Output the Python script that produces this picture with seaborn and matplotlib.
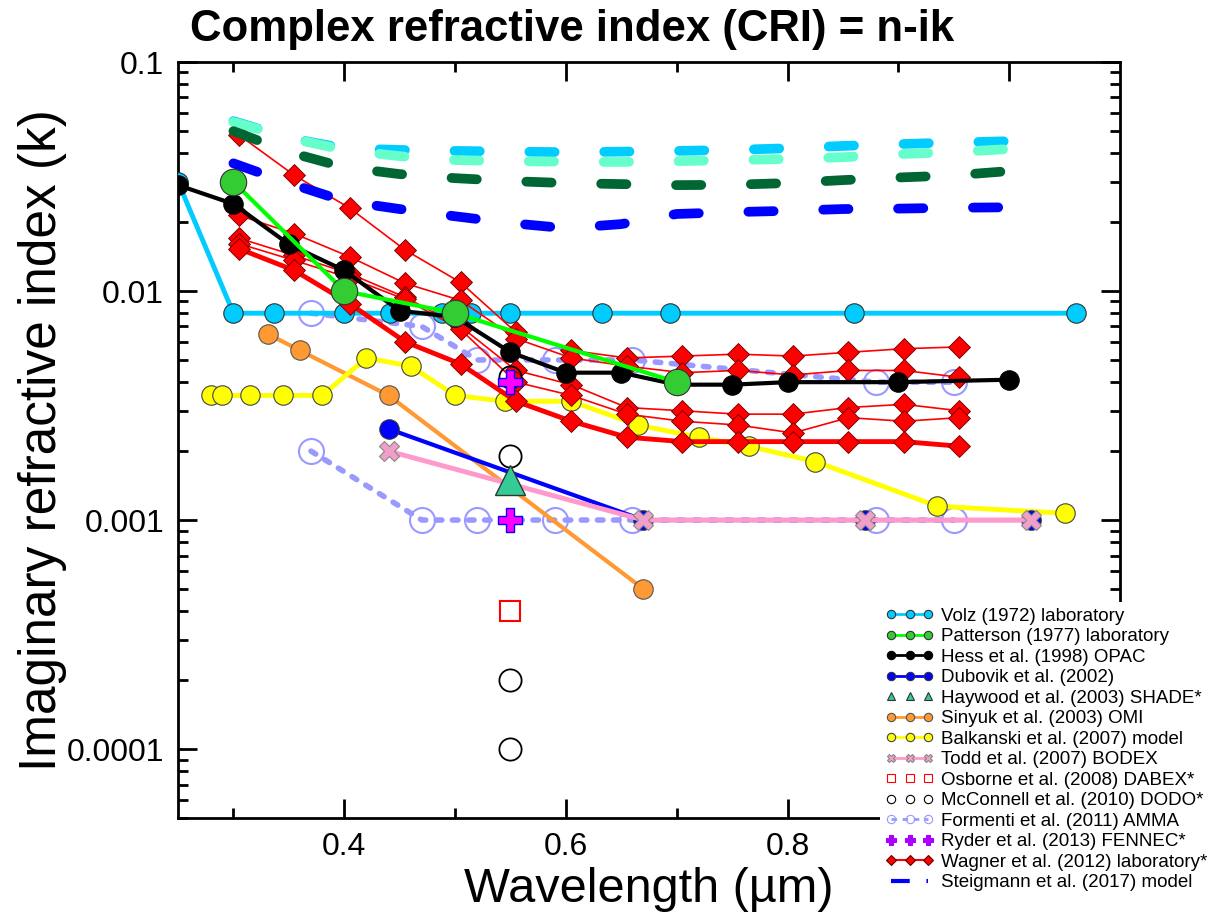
import matplotlib
matplotlib.use("Agg")
import matplotlib.pyplot as plt
import seaborn as sns
from matplotlib.lines import Line2D
from matplotlib.ticker import FixedLocator, NullFormatter

# %% data

volz_wl = [0.25, 0.3, 0.337, 0.4, 0.441, 0.488, 0.5145, 0.55, 0.633, 0.694, 0.86, 1.06]
volz_k = [0.030, 0.008, 0.008, 0.008, 0.008, 0.008, 0.008, 0.008, 0.008, 0.008, 0.008, 0.008]

patterson_wl = [0.3, 0.4, 0.5, 0.7]
patterson_k = [0.030, 0.010, 0.008, 0.004]

hess_wl = [0.25, 0.3, 0.35, 0.4, 0.45, 0.5, 0.55, 0.6, 0.65, 0.7, 0.75, 0.8, 0.9, 1.0]
hess_k = [0.029, 0.024, 0.016, 0.0123, 0.0082, 0.0077, 0.0054, 0.0044, 0.0044,
          0.0039, 0.0039, 0.0040, 0.0040, 0.0041]

dubovik_wl = [0.44, 0.67, 0.87, 1.02]
dubovik_k = [0.0025, 0.001, 0.001, 0.001]

haywood_wl = [0.55]
haywood_k = [0.0015]

sinyuk_wl = [0.331, 0.36, 0.44, 0.67]
sinyuk_k = [0.0065, 0.0055, 0.0035, 0.0005]

balkanski_wl = [0.28, 0.29, 0.315, 0.345, 0.38, 0.42, 0.46, 0.50, 0.545, 0.605,
                0.665, 0.72, 0.765, 0.825, 0.935, 1.05]
balkanski_k = [0.0035, 0.0035, 0.0035, 0.0035, 0.0035, 0.0051, 0.0047, 0.0035, 0.0033,
               0.0033, 0.0026, 0.0023, 0.0021, 0.0018, 0.00115, 0.00107]

todd_wl = [0.44, 0.67, 0.87, 1.02]
todd_k = [0.002, 0.001, 0.001, 0.001]

osborne_wl = [0.55]
osborne_k = [0.0004]

mcconnell_wl = [0.55, 0.55, 0.55, 0.55]
mcconnell_k = [0.0042, 0.0019, 0.0002, 0.0001]

formenti_wl = [0.37, 0.47, 0.52, 0.59, 0.66, 0.88, 0.95]
formenti_k_high = [0.008, 0.007, 0.005, 0.005, 0.005, 0.004, 0.004]
formenti_k_low = [0.002, 0.001, 0.001, 0.001, 0.001, 0.001, 0.001]

ryder_wl = [0.55, 0.55]
ryder_k = [0.004, 0.001]

wagner_wl = [0.305, 0.355, 0.405, 0.455, 0.505, 0.555, 0.605, 0.655, 0.705,
             0.755, 0.805, 0.855, 0.905, 0.955]
wagner_k1 = [0.048, 0.032, 0.023, 0.0151, 0.0109, 0.0066, 0.0055, 0.0051, 0.0052,
             0.0053, 0.0052, 0.0054, 0.0056, 0.0057]
wagner_k2 = [0.0214, 0.0178, 0.0141, 0.0108, 0.0091, 0.0062, 0.0051, 0.0047, 0.0044,
             0.0045, 0.0043, 0.0045, 0.0045, 0.0042]
wagner_k3 = [0.017, 0.0143, 0.0119, 0.0094, 0.0070, 0.0045, 0.0039, 0.0031, 0.0030,
             0.0029, 0.0029, 0.0031, 0.0032, 0.0030]
wagner_k4 = [0.0161, 0.0136, 0.0114, 0.0092, 0.0068, 0.0040, 0.0035, 0.0029, 0.0027,
             0.0026, 0.0024, 0.0028, 0.0027, 0.0028]
wagner_k5 = [0.0153, 0.0123, 0.0088, 0.0060, 0.0048, 0.0033, 0.0027, 0.0023, 0.0022,
             0.0022, 0.0022, 0.0022, 0.0022, 0.0021]

steig_wl = [0.3, 0.35, 0.4, 0.45, 0.5, 0.55, 0.6, 0.65, 0.7, 0.75, 0.8, 0.85, 0.9, 0.95, 1.0]
steig_k1 = [0.0552, 0.0466, 0.0420, 0.0413, 0.0409, 0.0406, 0.0404, 0.0406, 0.0409,
            0.0413, 0.0420, 0.0430, 0.0438, 0.0445, 0.0451]
steig_k2 = [0.0547, 0.0466, 0.0413, 0.0388, 0.0373, 0.0369, 0.0367, 0.0366, 0.0369,
            0.0373, 0.0377, 0.0384, 0.0396, 0.0404, 0.0417]
steig_k3 = [0.0499, 0.0404, 0.0347, 0.0324, 0.0311, 0.0302, 0.0296, 0.0293, 0.0290,
            0.0291, 0.0296, 0.0305, 0.0313, 0.0320, 0.0334]
steig_k4 = [0.0361, 0.0296, 0.0247, 0.0228, 0.0212, 0.0198, 0.0188, 0.0196, 0.0217,
            0.0221, 0.0224, 0.0228, 0.0229, 0.0231, 0.0232]
steig_colors = ["#00CCFF", "#66FFCC", "#006633", "#0000FF"]

x_ticks = [0.4, 0.6, 0.8, 1.0]
x_ticklabels = ['0.4', '0.6', '0.8', '']   # 1.0 sits under the legend
y_ticks = [1e-4, 1e-3, 1e-2, 1e-1]
y_ticklabels = ['0.0001', '0.001', '0.01', '0.1']

# %% figure

sns.set_style("ticks")
plt.rcParams['font.family'] = ['Liberation Sans', 'DejaVu Sans']
plt.rcParams['text.color'] = 'black'
plt.rcParams['axes.labelcolor'] = 'black'
plt.rcParams['xtick.color'] = 'black'
plt.rcParams['ytick.color'] = 'black'

fig = plt.figure(figsize=(12.15, 9.22), dpi=100)
ax = fig.add_axes([178 / 1215, 1 - 818 / 922, 942 / 1215, 756 / 922])
ax.set_yscale('log')


def curve(x, y, **kw):
    sns.lineplot(x=x, y=y, ax=ax, estimator=None, sort=False, legend=False, **kw)
    return ax.lines[-1]


# Formenti (two bounds, dashed)
for fk in [formenti_k_high, formenti_k_low]:
    ln = curve(formenti_wl, fk, color="#9999FF", linewidth=4, marker='o', markersize=18,
               markerfacecolor='none', markeredgecolor="#9999FF", markeredgewidth=1.5, zorder=2)
    ln.set_dashes([1.0, 1.9])
    ln.set_dash_capstyle('round')

curve(volz_wl, volz_k, color="#00CCFF", linewidth=3.5, marker='o', markersize=14,
      markerfacecolor="#00CCFF", markeredgecolor="#333333", markeredgewidth=0.8, zorder=3)
curve(sinyuk_wl, sinyuk_k, color="#FF9933", linewidth=3, marker='o', markersize=14,
      markerfacecolor="#FF9933", markeredgecolor="#555555", markeredgewidth=0.8, zorder=3)
curve(balkanski_wl, balkanski_k, color="#FFFF00", linewidth=3.5, marker='o', markersize=14,
      markerfacecolor="#FFFF00", markeredgecolor="#444444", markeredgewidth=0.8, zorder=3)
curve(dubovik_wl, dubovik_k, color="#0000FF", linewidth=3, marker='o', markersize=14,
      markerfacecolor="#0000FF", markeredgecolor="#333333", markeredgewidth=0.8, zorder=3)
curve(todd_wl, todd_k, color="#FF99CC", linewidth=3.5, marker='X', markersize=15,
      markerfacecolor="#F0A0C8", markeredgecolor="#888888", markeredgewidth=0.8, zorder=3.5)

# Wagner samples
for wk in [wagner_k1, wagner_k2, wagner_k3, wagner_k4]:
    curve(wagner_wl, wk, color="#FF0000", linewidth=1.2, marker='D', markersize=11,
          markerfacecolor="#FF0000", markeredgecolor="#660000", markeredgewidth=0.6, zorder=4)
curve(wagner_wl, wagner_k5, color="#FF0000", linewidth=3.5, marker='D', markersize=11,
      markerfacecolor="#FF0000", markeredgecolor="#660000", markeredgewidth=0.6, zorder=4)

# Steigmann model (dashed)
for sk, sc in zip([steig_k1, steig_k2, steig_k3, steig_k4], steig_colors):
    ln = curve(steig_wl, sk, color=sc, linewidth=7, zorder=4.5)
    ln.set_dashes([2.6, 5.1])
    ln.set_dash_capstyle('round')

curve(hess_wl, hess_k, color="black", linewidth=3, marker='o', markersize=14,
      markerfacecolor="black", markeredgecolor="black", markeredgewidth=0.8, zorder=5)
curve(patterson_wl, patterson_k, color="#00FF00", linewidth=3, marker='o', markersize=19,
      markerfacecolor="#33CC33", markeredgecolor="#333333", markeredgewidth=0.8, zorder=6)

# single-wavelength measurements
curve(mcconnell_wl, mcconnell_k, linestyle='none', marker='o', markersize=16,
      markerfacecolor='none', markeredgecolor='black', markeredgewidth=1.3, zorder=7)
curve(haywood_wl, haywood_k, linestyle='none', marker='^', markersize=21,
      markerfacecolor="#33CC99", markeredgecolor="#333333", markeredgewidth=1, zorder=7)
curve(osborne_wl, osborne_k, linestyle='none', marker='s', markersize=15,
      markerfacecolor='none', markeredgecolor="#FF0000", markeredgewidth=1.5, zorder=7)
curve(ryder_wl, ryder_k, linestyle='none', marker='P', markersize=17,
      markerfacecolor="#FF00FF", markeredgecolor="#0000FF", markeredgewidth=1, zorder=8)

# %% axes styling

ax.set_xlim(0.25, 1.1)
ax.set_ylim(5e-5, 0.1)
ax.xaxis.set_major_locator(FixedLocator(x_ticks))
ax.set_xticklabels(x_ticklabels)
ax.xaxis.set_minor_locator(FixedLocator([0.3, 0.5, 0.7, 0.9]))
ax.yaxis.set_major_locator(FixedLocator(y_ticks))
ax.set_yticklabels(y_ticklabels)
minor_y = [m * 10.0 ** e for e in range(-5, -1) for m in range(2, 10)]
ax.yaxis.set_minor_locator(FixedLocator(minor_y))
ax.yaxis.set_minor_formatter(NullFormatter())
ax.tick_params(which='both', direction='in', top=True, right=True, width=2, labelsize=23,
               pad=10, colors='black')
ax.tick_params(which='major', length=14)
ax.tick_params(which='minor', length=7)
for sp in ax.spines.values():
    sp.set_linewidth(2)
    sp.set_color('black')

ax.set_xlabel("Wavelength (µm)", fontsize=35, labelpad=4, color='black')
ax.set_ylabel("Imaginary refractive index (k)", fontsize=37, color='black')
ax.yaxis.set_label_coords(-0.118, 0.5)

fig.text(572 / 1215, 1 - 29 / 922, "Complex refractive index (CRI) = n-ik",
         ha='center', va='center', fontsize=31.5, fontweight='bold', color='black')

# %% legend

def h(color=None, ls='-', lw=2, marker=None, mfc=None, mec=None, ms=6, dashes=None):
    ln = Line2D([], [], color=color if color else 'none', linestyle=ls, linewidth=lw,
                marker=marker, markerfacecolor=mfc, markeredgecolor=mec, markersize=ms,
                markeredgewidth=0.8)
    if dashes:
        ln.set_dashes(dashes)
    return ln

handles = [
    h("#00CCFF", marker='o', mfc="#00CCFF", mec="#333333"),
    h("#00FF00", marker='o', mfc="#33CC33", mec="#333333"),
    h("black", marker='o', mfc="black", mec="black"),
    h("#0000FF", marker='o', mfc="#0000FF", mec="#333333"),
    h(None, ls='none', marker='^', mfc="#33CC99", mec="#333333"),
    h("#FF9933", marker='o', mfc="#FF9933", mec="#555555"),
    h("#FFFF00", marker='o', mfc="#FFFF00", mec="#444444"),
    h("#FF99CC", marker='X', mfc="#F0A0C8", mec="#888888"),
    h(None, ls='none', marker='s', mfc='none', mec="#FF0000"),
    h(None, ls='none', marker='o', mfc='none', mec="black"),
    h("#9999FF", lw=2, marker='o', mfc='none', mec="#9999FF", dashes=[2, 2]),
    h(None, ls='none', marker='P', mfc="#AA00FF", mec="#AA00FF", ms=7),
    h("#FF0000", lw=1.5, marker='D', mfc="#FF0000", mec="#660000", ms=5),
    h("#0000FF", lw=3, dashes=[4.5, 4.0]),
]
labels = [
    "Volz (1972) laboratory",
    "Patterson (1977) laboratory",
    "Hess et al. (1998) OPAC",
    "Dubovik et al. (2002)",
    "Haywood et al. (2003) SHADE*",
    "Sinyuk et al. (2003) OMI",
    "Balkanski et al. (2007) model",
    "Todd et al. (2007) BODEX",
    "Osborne et al. (2008) DABEX*",
    "McConnell et al. (2010) DODO*",
    "Formenti et al. (2011) AMMA",
    "Ryder et al. (2013) FENNEC*",
    "Wagner et al. (2012) laboratory*",
    "Steigmann et al. (2017) model",
]
leg = fig.legend(handles, labels, loc='upper left', bbox_to_anchor=(880 / 1215, 1 - 602 / 922),
                 frameon=True, facecolor='white', edgecolor='none', framealpha=1,
                 fontsize=13.5, handlelength=2.55, handletextpad=0.4, labelspacing=0.18,
                 numpoints=3, borderpad=0.3, borderaxespad=0, fancybox=False)
for t in leg.get_texts():
    t.set_color('black')

fig.savefig("out.png", dpi=100)
